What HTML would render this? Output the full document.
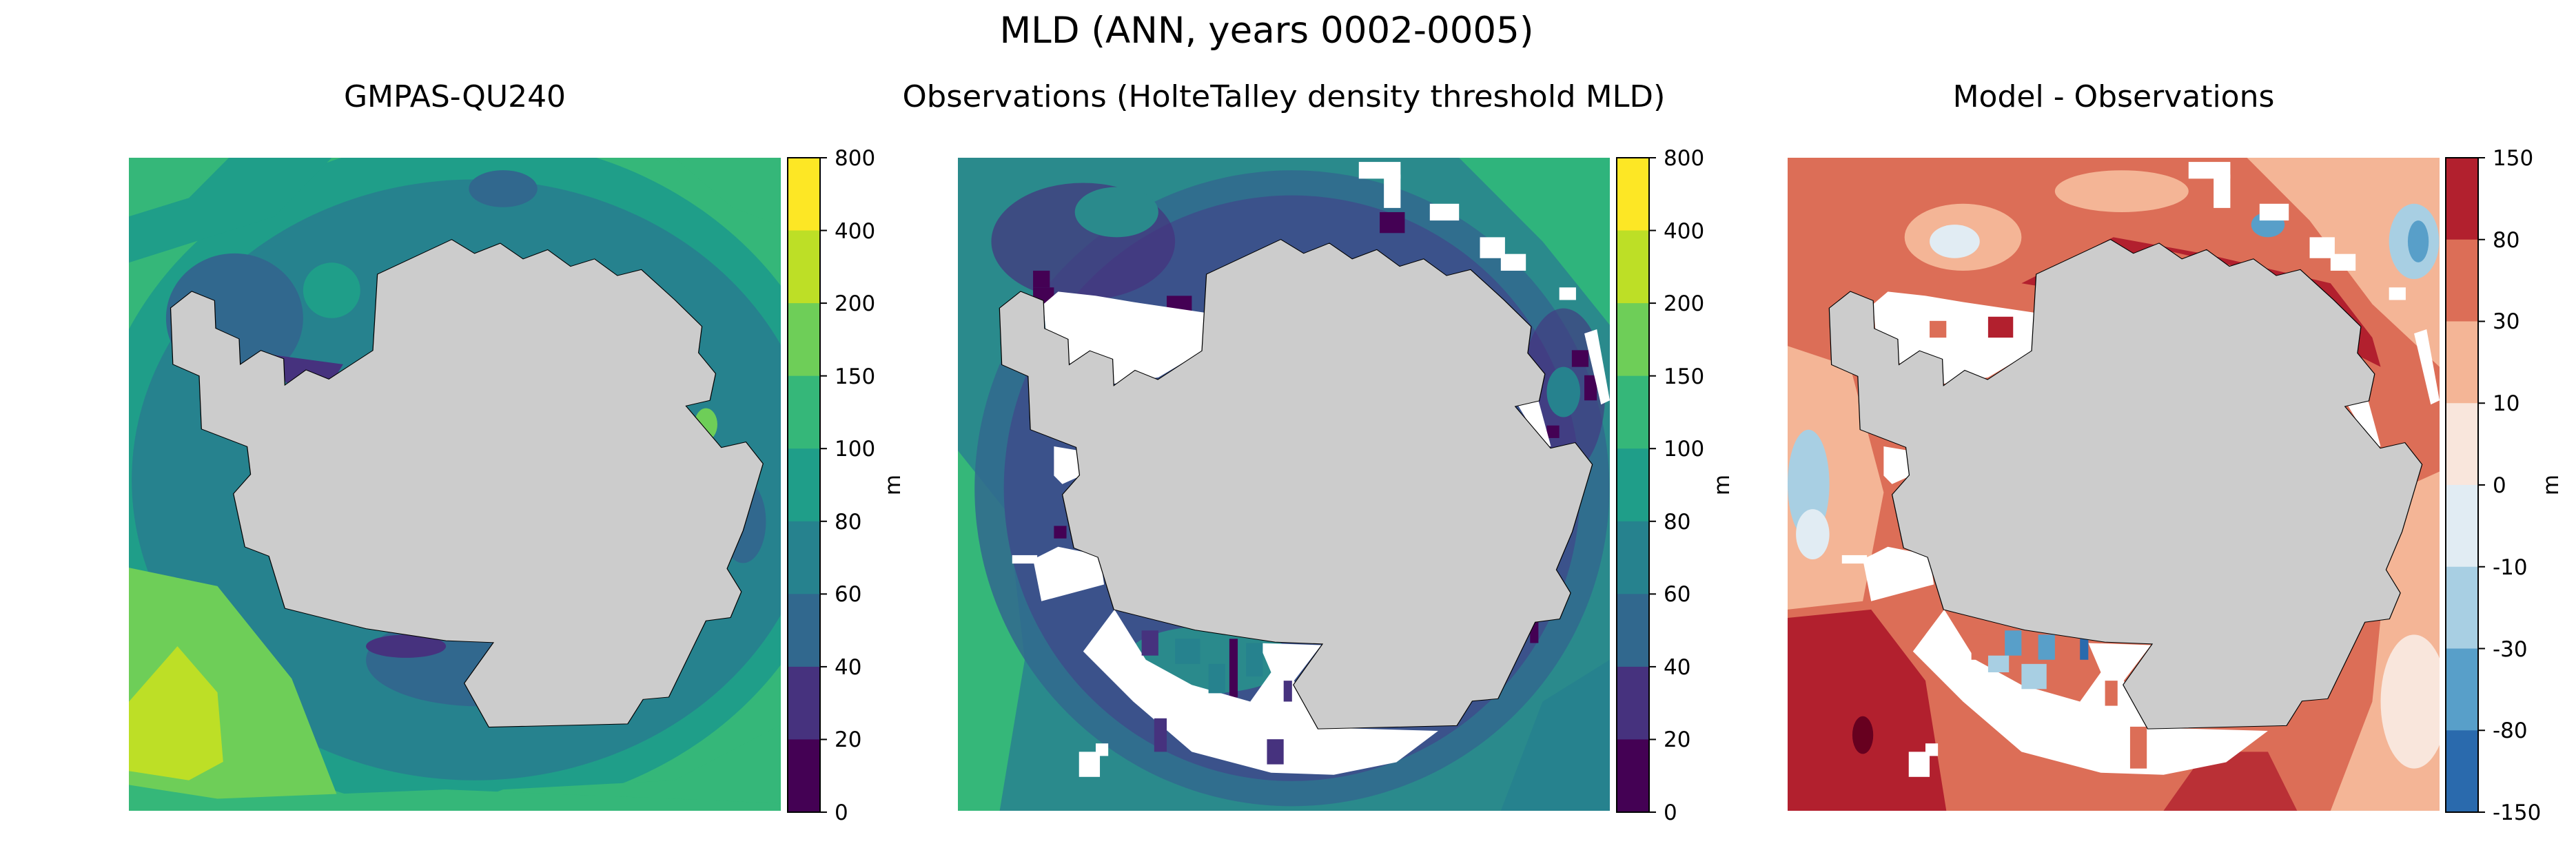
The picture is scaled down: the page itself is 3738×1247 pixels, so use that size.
<!DOCTYPE html>
<html><head><meta charset="utf-8"><style>
html,body{margin:0;padding:0;background:#fff;}
svg text{font-family:"DejaVu Sans","Liberation Sans",sans-serif;fill:#000;}
</style></head><body>
<svg width="3738" height="1242" viewBox="0 0 3738 1242" xmlns="http://www.w3.org/2000/svg">
<defs>
<polygon id="ant" points="118,398 155,362 195,382 197,442 238,465 240,520 276,490 316,508 318,565 355,532 395,552 472,490 480,325 610,250 650,280 695,258 735,292 778,272 818,308 860,292 900,328 942,315 1000,380 1048,438 1042,495 1072,540 1062,598 1020,610 1082,700 1125,688 1155,735 1120,880 1092,962 1117,1012 1098,1068 1055,1075 990,1240 945,1245 918,1298 675,1305 632,1210 683,1122 600,1118 460,1092 318,1048 290,935 248,915 228,800 258,758 252,698 172,660 168,545 122,520"/>
<g id="gaps">
<polygon points="375,1080 300,1180 420,1300 560,1420 750,1470 900,1475 1050,1445 1150,1370 860,1362 805,1250 870,1165 720,1160 750,1230 700,1300 560,1260 450,1200"/>
<polygon points="205,350 240,320 330,330 420,345 590,370 590,460 480,525 375,540 265,490 210,410"/>
<polygon points="230,690 290,700 295,760 250,780 230,760"/>
<polygon points="240,930 340,950 350,1020 200,1060 180,960"/>
<rect x="960" y="10" width="100" height="40"/><rect x="1020" y="40" width="40" height="80"/>
<rect x="1130" y="110" width="70" height="40"/><rect x="1250" y="190" width="60" height="50"/><rect x="1300" y="230" width="60" height="40"/>
<rect x="1440" y="310" width="40" height="30"/><polygon points="1500,420 1530,410 1561,580 1540,590"/>
<polygon points="1340,590 1390,580 1420,690 1400,690"/>
<rect x="290" y="1420" width="50" height="60"/><rect x="330" y="1400" width="30" height="30"/><rect x="130" y="950" width="60" height="20"/>
</g>
<g id="ticksv" stroke="#000" stroke-width="2">
<line x1="47" y1="0" x2="57" y2="0"/><line x1="47" y1="105.56" x2="57" y2="105.56"/><line x1="47" y1="211.11" x2="57" y2="211.11"/>
<line x1="47" y1="316.67" x2="57" y2="316.67"/><line x1="47" y1="422.22" x2="57" y2="422.22"/><line x1="47" y1="527.78" x2="57" y2="527.78"/>
<line x1="47" y1="633.33" x2="57" y2="633.33"/><line x1="47" y1="738.89" x2="57" y2="738.89"/><line x1="47" y1="844.44" x2="57" y2="844.44"/><line x1="47" y1="950" x2="57" y2="950"/>
</g>
<g id="ticks" stroke="#000" stroke-width="2">
<line x1="47" y1="0" x2="57" y2="0"/><line x1="47" y1="118.75" x2="57" y2="118.75"/><line x1="47" y1="237.5" x2="57" y2="237.5"/>
<line x1="47" y1="356.25" x2="57" y2="356.25"/><line x1="47" y1="475" x2="57" y2="475"/><line x1="47" y1="593.75" x2="57" y2="593.75"/>
<line x1="47" y1="712.5" x2="57" y2="712.5"/><line x1="47" y1="831.25" x2="57" y2="831.25"/><line x1="47" y1="950" x2="57" y2="950"/>
</g>
<g id="cbv">
<rect x="0" y="0" width="47" height="106" fill="#fde725"/>
<rect x="0" y="105.56" width="47" height="106" fill="#bddf26"/>
<rect x="0" y="211.11" width="47" height="106" fill="#6ece58"/>
<rect x="0" y="316.67" width="47" height="106" fill="#35b779"/>
<rect x="0" y="422.22" width="47" height="106" fill="#1f9e89"/>
<rect x="0" y="527.78" width="47" height="106" fill="#26828e"/>
<rect x="0" y="633.33" width="47" height="106" fill="#31688e"/>
<rect x="0" y="738.89" width="47" height="106" fill="#46327e"/>
<rect x="0" y="844.44" width="47" height="105.56" fill="#440154"/>
<rect x="0" y="0" width="47" height="950" fill="none" stroke="#000" stroke-width="2"/>
<use href="#ticksv"/>
<g font-size="31">
<text x="68" y="11">800</text><text x="68" y="117">400</text><text x="68" y="222">200</text><text x="68" y="328">150</text>
<text x="68" y="433">100</text><text x="68" y="539">80</text><text x="68" y="644">60</text><text x="68" y="750">40</text>
<text x="68" y="855">20</text><text x="68" y="961">0</text>
</g>
</g>
</defs>

<text x="1838" y="62" font-size="53" text-anchor="middle">MLD (ANN, years 0002-0005)</text>
<text x="660" y="155" font-size="44" text-anchor="middle">GMPAS-QU240</text>
<text x="1863" y="155" font-size="44" text-anchor="middle" textLength="1107" lengthAdjust="spacingAndGlyphs">Observations (HolteTalley density threshold MLD)</text>
<text x="3067" y="155" font-size="44" text-anchor="middle">Model - Observations</text>

<!-- Panel 1 -->
<svg x="187" y="229" width="946" height="948" viewBox="45 73 1141 1413" preserveAspectRatio="none">
<rect x="45" y="73" width="1141" height="1413" fill="#35b779"/>
<ellipse cx="640" cy="760" rx="660" ry="730" fill="#1f9e89"/>
<ellipse cx="650" cy="770" rx="600" ry="650" fill="#26828e"/>
<path d="M45,73 L400,73 L300,200 L45,300Z" fill="#1f9e89"/>
<path d="M45,73 L220,73 L150,160 L45,200Z" fill="#35b779"/>
<path d="M1000,73 L1186,73 L1186,220 L1100,180Z" fill="#35b779"/>
<ellipse cx="230" cy="420" rx="120" ry="140" fill="#31688e"/>
<ellipse cx="700" cy="140" rx="60" ry="40" fill="#31688e"/>
<ellipse cx="400" cy="360" rx="50" ry="60" fill="#1f9e89"/>
<ellipse cx="660" cy="1160" rx="200" ry="100" fill="#31688e"/>
<ellipse cx="530" cy="1130" rx="70" ry="25" fill="#46327e"/>
<polygon points="300,500 420,520 400,560 320,560" fill="#46327e"/>
<ellipse cx="1120" cy="860" rx="40" ry="90" fill="#31688e"/>
<path d="M45,960 L200,1000 L330,1200 L420,1486 L45,1486Z" fill="#6ece58"/>
<path d="M45,1250 L130,1130 L200,1230 L210,1380 L150,1420 L45,1400Z" fill="#bddf26"/>
<path d="M600,1486 L700,1440 L1000,1420 L1186,1300 L1186,1486Z" fill="#35b779"/>
<path d="M45,1486 L45,1430 L200,1460 L600,1440 L1000,1460 L1186,1470 L1186,1486Z" fill="#35b779"/>
<ellipse cx="1055" cy="650" rx="20" ry="35" fill="#6ece58"/>
<use href="#ant" fill="#cccccc" stroke="#000" stroke-width="1.5"/>
</svg>

<!-- Panel 2 -->
<svg x="1390" y="229" width="946" height="948" viewBox="0 0 1561 1561" preserveAspectRatio="none">
<rect width="1561" height="1561" fill="#2a8a8c"/>
<path d="M1200,0 L1561,0 L1561,400 L1400,200Z" fill="#2fb47c"/>
<path d="M0,700 L120,850 L160,1200 L100,1561 L0,1561Z" fill="#35b779"/>
<path d="M1400,1300 L1561,1200 L1561,1561 L1300,1561Z" fill="#26828e"/>
<ellipse cx="800" cy="790" rx="760" ry="760" fill="#31688e" opacity="0.85"/>
<ellipse cx="800" cy="790" rx="690" ry="700" fill="#3b528b"/>
<ellipse cx="300" cy="200" rx="220" ry="140" fill="#46327e" opacity="0.7"/>
<ellipse cx="1450" cy="560" rx="100" ry="200" fill="#46327e" opacity="0.6"/>
<ellipse cx="380" cy="130" rx="100" ry="60" fill="#2a8a8c"/>
<ellipse cx="1450" cy="560" rx="40" ry="60" fill="#26828e"/>
<ellipse cx="600" cy="1200" rx="200" ry="80" fill="#2a8a8c"/>
<g fill="#440154">
<rect x="180" y="310" width="50" height="60"/><rect x="470" y="380" width="60" height="40"/><rect x="340" y="390" width="40" height="40"/>
<rect x="1010" y="130" width="60" height="50"/><rect x="1470" y="460" width="40" height="40"/><rect x="1500" y="520" width="30" height="60"/>
<rect x="1410" y="640" width="30" height="30"/><rect x="230" y="720" width="30" height="30"/><rect x="230" y="880" width="30" height="30"/>
<rect x="650" y="1150" width="20" height="140"/><rect x="780" y="1420" width="30" height="40"/><rect x="1370" y="1110" width="20" height="50"/>
<rect x="500" y="330" width="60" height="50"/><rect x="180" y="270" width="40" height="40"/>
</g>
<use href="#gaps" fill="#fff"/>
<g fill="#46327e"><rect x="440" y="1130" width="40" height="60"/><rect x="470" y="1340" width="30" height="80"/><rect x="740" y="1390" width="40" height="60"/><rect x="780" y="1250" width="20" height="50"/></g>
<g fill="#26828e"><rect x="520" y="1150" width="60" height="60"/><rect x="600" y="1210" width="40" height="70"/><rect x="690" y="1160" width="40" height="80"/></g>
<g transform="translate(-62,-82) scale(1.369,1.109)"><use href="#ant" fill="#cccccc" stroke="#000" stroke-width="1.5"/></g>
</svg>

<!-- Panel 3 -->
<svg x="2594" y="229" width="946" height="948" viewBox="0 0 1561 1561" preserveAspectRatio="none">
<rect width="1561" height="1561" fill="#dc6e57"/>
<path d="M1100,0 L1561,0 L1561,500 L1400,350 L1250,150Z" fill="#f4b596"/>
<path d="M1450,800 L1561,750 L1561,1561 L1300,1561 L1400,1300Z" fill="#f4b596"/>
<ellipse cx="1500" cy="1300" rx="80" ry="160" fill="#f9e6dc"/>
<ellipse cx="1500" cy="200" rx="60" ry="90" fill="#a8cfe3"/>
<ellipse cx="1510" cy="200" rx="25" ry="50" fill="#589fc9"/>
<path d="M0,450 L150,500 L230,800 L180,1060 L0,1080Z" fill="#f4b596"/>
<ellipse cx="50" cy="780" rx="50" ry="130" fill="#a8cfe3"/>
<ellipse cx="60" cy="900" rx="40" ry="60" fill="#e1ecf3"/>
<ellipse cx="420" cy="190" rx="140" ry="80" fill="#f4b596"/>
<ellipse cx="400" cy="200" rx="60" ry="40" fill="#e1ecf3"/>
<ellipse cx="800" cy="80" rx="160" ry="50" fill="#f4b596"/>
<ellipse cx="1150" cy="160" rx="40" ry="30" fill="#589fc9"/>
<path d="M0,1100 L200,1080 L330,1250 L380,1561 L0,1561Z" fill="#b2202e"/>
<path d="M900,1561 L1000,1420 L1150,1420 L1220,1561Z" fill="#b2202e" opacity="0.8"/>
<ellipse cx="180" cy="1380" rx="25" ry="45" fill="#67001f"/>
<path d="M560,300 L780,190 L1000,230 L1300,300 L1400,430 L1420,500 L1360,470 L1250,300 L900,220 L620,310Z" fill="#b2202e"/>
<use href="#gaps" fill="#fff"/>
<g fill="#589fc9"><rect x="520" y="1130" width="40" height="60"/><rect x="600" y="1140" width="40" height="60"/><rect x="700" y="1150" width="20" height="50" fill="#2a6aad"/></g>
<g fill="#a8cfe3"><rect x="480" y="1190" width="50" height="40"/><rect x="560" y="1210" width="60" height="60"/></g>
<g fill="#dc6e57"><rect x="340" y="390" width="40" height="40"/><rect x="440" y="1140" width="40" height="60"/><rect x="760" y="1250" width="30" height="60"/><rect x="820" y="1360" width="40" height="100"/></g>
<rect x="480" y="380" width="60" height="50" fill="#b2202e"/>
<g transform="translate(-62,-82) scale(1.369,1.109)"><use href="#ant" fill="#cccccc" stroke="#000" stroke-width="1.5"/></g>
</svg>

<!-- Colorbars -->
<g transform="translate(1143,229)"><use href="#cbv"/></g>
<g transform="translate(2346,229)"><use href="#cbv"/></g>
<text font-size="31" transform="translate(1306,704) rotate(-90)" text-anchor="middle">m</text>
<text font-size="31" transform="translate(2509,704) rotate(-90)" text-anchor="middle">m</text>

<g transform="translate(3549,229)">
<rect x="0" y="0" width="47" height="119" fill="#b2202e"/>
<rect x="0" y="118.75" width="47" height="119" fill="#dc6e57"/>
<rect x="0" y="237.5" width="47" height="119" fill="#f4b596"/>
<rect x="0" y="356.25" width="47" height="119" fill="#f9e6dc"/>
<rect x="0" y="475" width="47" height="119" fill="#e1ecf3"/>
<rect x="0" y="593.75" width="47" height="119" fill="#a8cfe3"/>
<rect x="0" y="712.5" width="47" height="119" fill="#589fc9"/>
<rect x="0" y="831.25" width="47" height="119" fill="#2a6aad"/>
<rect x="0" y="0" width="47" height="950" fill="none" stroke="#000" stroke-width="2"/>
<use href="#ticks"/>
<g font-size="31">
<text x="68" y="11">150</text><text x="68" y="130">80</text><text x="68" y="248">30</text><text x="68" y="367">10</text>
<text x="68" y="486">0</text><text x="68" y="605">-10</text><text x="68" y="724">-30</text><text x="68" y="842">-80</text>
<text x="68" y="961">-150</text>
</g>
</g>
<text font-size="31" transform="translate(3712,704) rotate(-90)" text-anchor="middle">m</text>
</svg>
</body></html>
